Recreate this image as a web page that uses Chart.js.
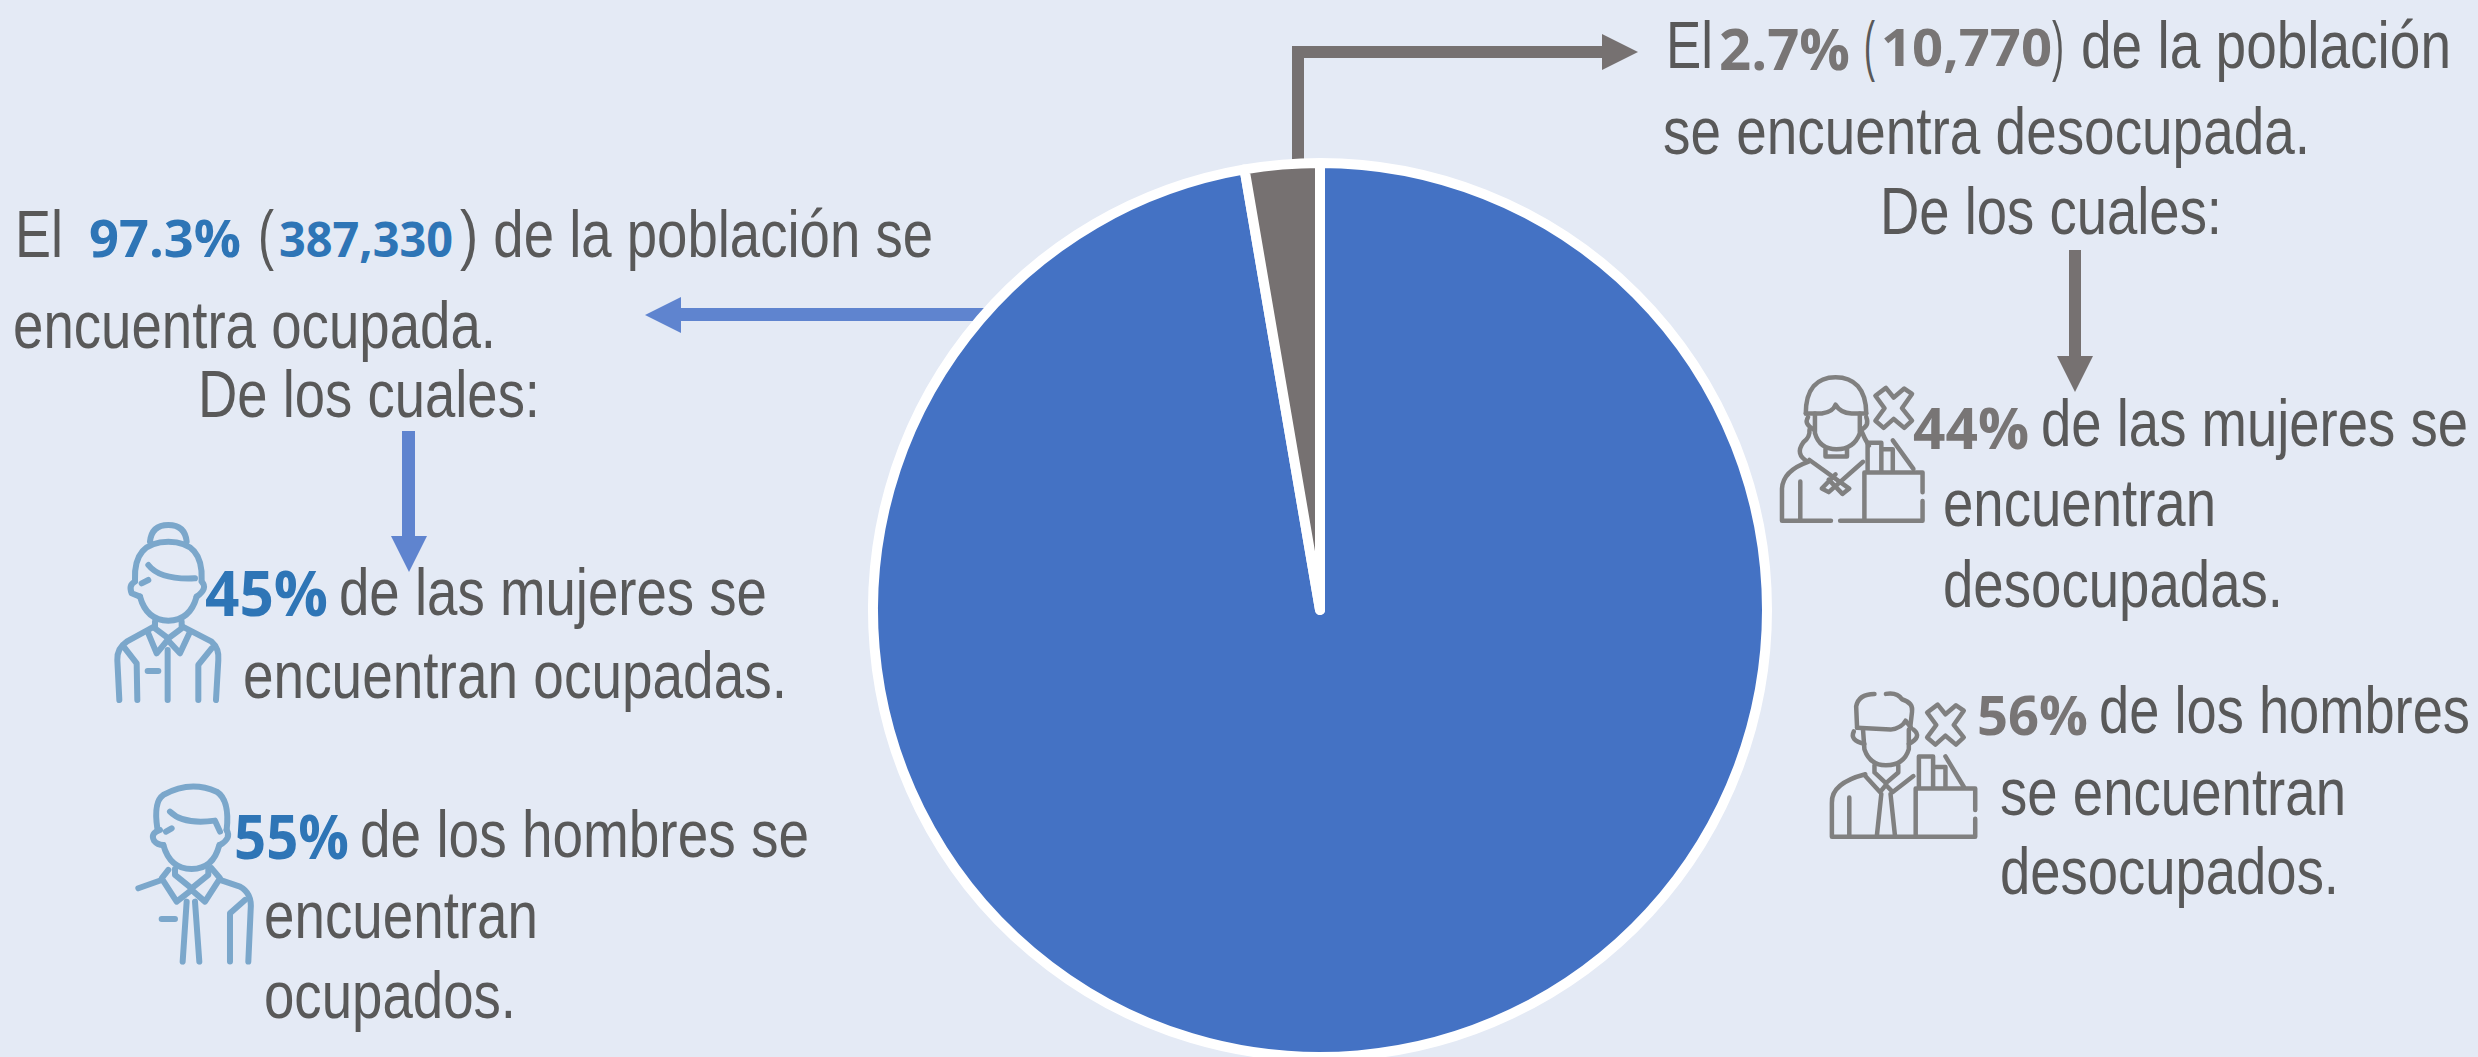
<!DOCTYPE html>
<html lang="es">
<head>
<meta charset="utf-8">
<title>Población ocupada y desocupada</title>
<script src="https://cdn.jsdelivr.net/npm/chart.js@4"></script>
<style>
    html, body { margin: 0; width: 2478px; height: 1057px; overflow: hidden; background: #E4EAF5; }
    #overlay { position: absolute; left: 0; top: 0; }
    #pie-box { position: absolute; left: 860px; top: 150px; width: 920px; height: 920px; }
    .plain { font-family: "Liberation Sans", Arial, sans-serif; fill: #595959; }
    .num { font-family: "Open Sans", sans-serif; font-weight: 700; }
    .icon { fill: none; stroke-linecap: round; stroke-linejoin: round; }
    .icon path { vector-effect: non-scaling-stroke; }
</style>
</head>
<body>
<svg id="overlay" width="2478" height="1057" xmlns="http://www.w3.org/2000/svg">
    <!-- arrows, under the pie -->
    <polygon fill="#767171" points="1292,170 1292,46 1602,46 1602,34 1638,52 1602,70 1602,58 1304,58 1304,170"/>
    <polygon fill="#767171" points="2069,250 2081,250 2081,356 2093,356 2075,392 2057,356 2069,356"/>
    <polygon fill="#5F84CF" points="990,308 681,308 681,297 645,315 681,333 681,321 990,321"/>
    <polygon fill="#5F84CF" points="402,431 415,431 415,536 427,536 409,572 391,536 402,536"/>

    <!-- woman, employed -->
    <g class="icon" stroke="#7BA7CB" stroke-width="6" transform="translate(80,500) scale(0.3333)">
        <path d="M210,125 Q215,75 265,75 Q315,75 320,125"/>
        <path d="M165,240 Q160,125 265,125 Q370,125 365,240"/>
        <path d="M205,195 Q240,240 345,235"/>
        <path d="M165,245 Q145,255 155,280 L180,290 M205,240 L185,250 M365,245 Q385,265 350,290"/>
        <path d="M180,290 Q200,362 265,362 Q330,362 350,290"/>
        <path d="M225,365 L225,385 L265,415 L305,385 L305,365"/>
        <path d="M205,400 L230,460 L263,420 L300,460 L328,400"/>
        <path d="M222,380 L140,425 Q110,445 112,480 L118,600 M308,380 L395,425 Q418,445 415,480 L408,600"/>
        <path d="M135,445 L170,490 L172,600 M395,445 L355,495 L355,600"/>
        <path d="M263,450 L263,600 M203,513 L235,513"/>
    </g>
    <!-- man, employed -->
    <g class="icon" stroke="#7BA7CB" stroke-width="6" transform="translate(80,500) scale(0.3333)">
        <path d="M232,985 Q220,905 250,885 Q330,840 410,875 Q450,900 440,990"/>
        <path d="M270,935 Q310,975 405,962 L420,995"/>
        <path d="M240,990 Q210,1000 222,1022 Q232,1035 250,1035 M275,985 L258,995 M440,990 Q455,1015 420,1035"/>
        <path d="M250,1035 Q270,1107 335,1107 Q400,1107 418,1035"/>
        <path d="M285,1107 L285,1125 L335,1165 L385,1125 L385,1107"/>
        <path d="M265,1110 L245,1135 L290,1205 L335,1170 L375,1205 L420,1135 L395,1105"/>
        <path d="M175,1165 L245,1140 M420,1140 L480,1160 Q517,1180 512,1230 L505,1385"/>
        <path d="M495,1200 L450,1240 L450,1385"/>
        <path d="M320,1205 L308,1385 M345,1205 L358,1385 M245,1257 L285,1257"/>
    </g>
    <!-- woman, unemployed -->
    <g class="icon" stroke="#808080" stroke-width="4.5" transform="translate(1760,360) scale(0.4579,0.3571)">
        <path d="M100,150 C100,80 125,48 165,48 C205,48 232,80 232,150"/>
        <path d="M100,150 L135,150 Q160,145 165,125 Q175,148 200,150 L232,150"/>
        <path d="M120,150 L120,205 Q130,250 167,250 Q205,250 218,205 L218,150"/>
        <path d="M105,160 Q95,180 118,195 M232,160 Q240,185 220,195"/>
        <path d="M108,195 Q110,215 95,230 Q75,265 105,285 M222,200 Q228,220 238,240"/>
        <path d="M143,250 L143,270 L190,270 L190,250"/>
        <path d="M105,285 Q50,310 48,360 L48,450 L155,450 M175,450 L355,450 L355,395 M355,370 L355,315 L228,315 L228,445 M88,340 L88,445"/>
        <path d="M108,280 L195,360 L180,375 L150,335 M225,285 L150,370 L135,360 L165,320"/>
        <path d="M235,310 L235,232 L265,232 L265,310 M265,250 L290,250 L290,310 M290,225 L335,305"/>
        <path d="M275,78 L292,105 L315,80 L332,95 L310,135 L332,170 L315,190 L292,165 L270,190 L252,170 L272,135 L252,100 Z"/>
    </g>
    <!-- man, unemployed -->
    <g class="icon" stroke="#808080" stroke-width="4.5" transform="translate(1760,360) scale(0.4579,0.3571)">
        <path d="M212,1030 L210,970 Q215,935 250,935 M275,935 Q300,930 310,950 Q335,960 332,985 L328,1030"/>
        <path d="M212,1030 L285,1035 Q310,1030 318,1010 L330,1030"/>
        <path d="M205,1040 Q195,1065 228,1075 M335,1035 Q355,1055 325,1075"/>
        <path d="M225,1035 L228,1090 Q240,1135 275,1135 Q315,1135 325,1090 L325,1035"/>
        <path d="M250,1135 L250,1155 L275,1185 L302,1155 L302,1135"/>
        <path d="M230,1160 Q155,1185 157,1240 L157,1335 L470,1335 L470,1285 M470,1260 L470,1200 L340,1200 L340,1335 M195,1225 L195,1335"/>
        <path d="M230,1165 L262,1210 L275,1190 L290,1210 L335,1165 M265,1215 L255,1335 M285,1215 L295,1335"/>
        <path d="M347,1195 L347,1110 L378,1110 L378,1195 M378,1140 L405,1140 L405,1195 M405,1110 L445,1195"/>
        <path d="M388,965 L405,992 L428,967 L445,982 L423,1022 L445,1057 L428,1077 L405,1052 L383,1077 L365,1057 L385,1022 L365,987 Z"/>
    </g>
    <g id="texts"></g>
</svg>
<div id="pie-box"><canvas id="pie" width="920" height="920"></canvas></div>

<script>
// values
const categories = ['Ocupada', 'Desocupada'];
const sharePct = [97.3, 2.7];
const people = ['387,330', '10,770'];
const womenPct = [45, 44];
const menPct = [55, 56];

const pieColors = ['#4472C4', '#767171'];
const blueNum = '#2E75B6';
const greyNum = '#787575';

// x, baseline, width, text, font size, colour (only the numbers have one)
const textRuns = [
    [15, 257, 48, 'El', 67],
    [89, 257, 152, sharePct[0] + '%', 52, blueNum],
    [258, 257, 16, '(', 67],
    [279, 257, 174, people[0], 48, blueNum],
    [460, 257, 473, ') de la población se', 67],
    [13, 348, 483, 'encuentra ocupada.', 67],
    [198, 417, 342, 'De los cuales:', 67],
    [205, 616, 123, womenPct[0] + '%', 62, blueNum],
    [339, 615, 428, 'de las mujeres se', 67],
    [243, 698, 544, 'encuentran ocupadas.', 67],
    [234, 859, 115, menPct[0] + '%', 60, blueNum],
    [360, 857, 449, 'de los hombres se', 67],
    [264, 938, 274, 'encuentran', 67],
    [264, 1018, 252, 'ocupados.', 67],

    [1666, 68, 47, 'El', 67],
    [1719, 70, 131, sharePct[1] + '%', 58, greyNum],
    [1864, 68, 11, '(', 67],
    [1881, 66, 171, people[1], 52, greyNum],
    [2052, 68, 12, ')', 67],
    [2081, 68, 370, 'de la población', 67],
    [1663, 154, 647, 'se encuentra desocupada.', 67],
    [1880, 234, 342, 'De los cuales:', 67],
    [1913, 449, 116, womenPct[1] + '%', 57, greyNum],
    [2041, 446, 427, 'de las mujeres se', 67],
    [1943, 526, 273, 'encuentran', 67],
    [1943, 607, 340, 'desocupadas.', 67],
    [1977, 735, 111, menPct[1] + '%', 54, greyNum],
    [2099, 733, 371, 'de los hombres', 67],
    [2000, 815, 346, 'se encuentran', 67],
    [2000, 894, 339, 'desocupados.', 67]
];

const svgNS = 'http://www.w3.org/2000/svg';
const textGroup = document.getElementById('texts');
textRuns.forEach(([x, y, w, str, size, color]) => {
    const t = document.createElementNS(svgNS, 'text');
    t.setAttribute('x', x);
    t.setAttribute('y', y);
    t.setAttribute('font-size', size);
    t.setAttribute('textLength', w);
    t.setAttribute('lengthAdjust', 'spacingAndGlyphs');
    t.setAttribute('class', color ? 'num' : 'plain');
    if (color) t.setAttribute('fill', color);
    t.textContent = str;
    textGroup.appendChild(t);
});

new Chart(document.getElementById('pie'), {
    type: 'pie',
    data: {
        labels: categories,
        datasets: [{
            data: sharePct,
            backgroundColor: pieColors,
            borderColor: '#FFFFFF',
            borderWidth: 10,
            borderJoinStyle: 'round'
        }]
    },
    options: {
        responsive: false,
        animation: false,
        layout: { padding: 8 },
        plugins: {
            legend: { display: false },
            tooltip: { enabled: false }
        }
    }
});
</script>
</body>
</html>
